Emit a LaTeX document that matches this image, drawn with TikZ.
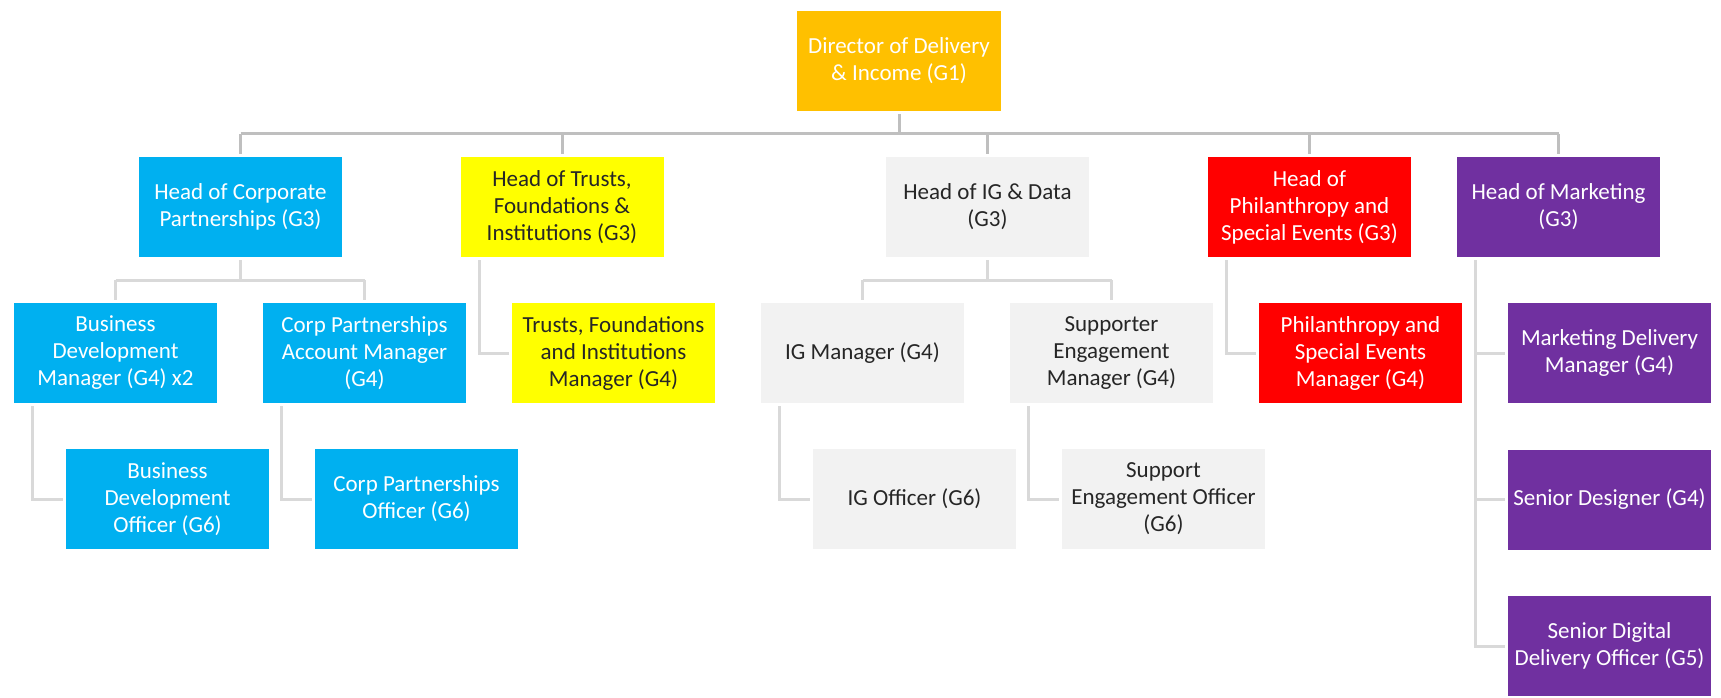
\documentclass[tikz,border=0pt]{standalone}
\usepackage{fontspec}
\setmainfont{Carlito}
\usetikzlibrary{calc}
\definecolor{cgold}{HTML}{FFC000}
\definecolor{cblue}{HTML}{00B0F0}
\definecolor{cyel}{HTML}{FFFF00}
\definecolor{cgray}{HTML}{F2F2F2}
\definecolor{cred}{HTML}{FF0000}
\definecolor{cpurp}{HTML}{7030A0}
\definecolor{lineA}{HTML}{BFBFBF}
\definecolor{lineB}{HTML}{D9D9D9}
\definecolor{txtdark}{HTML}{262626}
\begin{document}
\begin{tikzpicture}[x=1pt,y=-1pt,
 box/.style={rectangle, minimum width=203pt, minimum height=100pt, inner sep=0pt, align=center, font=\fontsize{23}{27}\selectfont},
 wbox/.style={box, text=white},
 dbox/.style={box, text=txtdark},
 topline/.style={draw=lineA, line width=3pt},
 subline/.style={draw=lineB, line width=3pt},
]
\useasboundingbox[fill=white] (0,0) rectangle (1721,698);

% level 0
\node[wbox, fill=cgold, minimum width=204pt] (dir) at (899,61) {Director of Delivery\\ \& Income (G1)};

% level 1
\node[wbox, fill=cblue] (hcp) at (240.5,207) {Head of Corporate\\ Partnerships (G3)};
\node[dbox, fill=cyel] (htf) at (562,207) {Head of Trusts,\\ Foundations \&\\ Institutions (G3)};
\node[dbox, fill=cgray] (hig) at (987.5,207) {Head of IG \& Data\\ (G3)};
\node[wbox, fill=cred] (hph) at (1309.5,207) {Head of\\ Philanthropy and\\ Special Events (G3)};
\node[wbox, fill=cpurp] (hmk) at (1558.5,207) {Head of Marketing\\ (G3)};

% level 2
\node[wbox, fill=cblue] (bdm) at (115.5,353) {Business\\ Development\\ Manager (G4) x2};
\node[wbox, fill=cblue] (cpam) at (364.5,353) {Corp Partnerships\\ Account Manager\\ (G4)};
\node[dbox, fill=cyel] (tfim) at (613.5,353) {Trusts, Foundations\\ and Institutions\\ Manager (G4)};
\node[dbox, fill=cgray] (igm) at (862.5,353) {IG Manager (G4)};
\node[dbox, fill=cgray] (sem) at (1111.5,353) {Supporter\\ Engagement\\ Manager (G4)};
\node[wbox, fill=cred] (psem) at (1360.5,353) {Philanthropy and\\ Special Events\\ Manager (G4)};
\node[wbox, fill=cpurp] (mdm) at (1609.5,353) {Marketing Delivery\\ Manager (G4)};

% level 3
\node[wbox, fill=cblue] (bdo) at (167.5,499) {Business\\ Development\\ Officer (G6)};
\node[wbox, fill=cblue] (cpo) at (416.5,499) {Corp Partnerships\\ Officer (G6)};
\node[dbox, fill=cgray] (igo) at (914.5,499) {IG Officer (G6)};
\node[dbox, fill=cgray] (seo) at (1163.5,499) {Support\\ Engagement Officer\\ (G6)};
\node[wbox, fill=cpurp] (sd) at (1609.5,499.5) {Senior Designer (G4)};
\node[wbox, fill=cpurp] (sddo) at (1609.5,646) {Senior Digital\\ Delivery Officer (G5)};

% top bus
\coordinate (bus) at (0,134);
\draw[topline] ([yshift=-3pt]dir.south) -- (dir.south |- bus);
\draw[topline] (hcp.north |- bus) -- (hmk.north |- bus);
\foreach \n in {hcp,htf,hig,hph,hmk}
  \draw[topline] (\n.north |- bus) -- ([yshift=3pt]\n.north);

% sub buses
\coordinate (sub) at (0,280);
\draw[subline] ([yshift=-3pt]hcp.south) -- (hcp.south |- sub);
\draw[subline] (bdm.north |- sub) -- (cpam.north |- sub);
\foreach \n in {bdm,cpam}
  \draw[subline] (\n.north |- sub) -- ([yshift=3pt]\n.north);
\draw[subline] ([yshift=-3pt]hig.south) -- (hig.south |- sub);
\draw[subline] (igm.north |- sub) -- (sem.north |- sub);
\foreach \n in {igm,sem}
  \draw[subline] (\n.north |- sub) -- ([yshift=3pt]\n.north);

% elbows
\draw[subline] ([xshift=19pt,yshift=-3pt]bdm.south west) |- ([xshift=-3pt]bdo.west);
\draw[subline] ([xshift=19pt,yshift=-3pt]cpam.south west) |- ([xshift=-3pt]cpo.west);
\draw[subline] ([xshift=19pt,yshift=-3pt]htf.south west) |- ([xshift=-3pt]tfim.west);
\draw[subline] ([xshift=19pt,yshift=-3pt]igm.south west) |- ([xshift=-3pt]igo.west);
\draw[subline] ([xshift=19pt,yshift=-3pt]sem.south west) |- ([xshift=-3pt]seo.west);
\draw[subline] ([xshift=19pt,yshift=-3pt]hph.south west) |- ([xshift=-3pt]psem.west);
\draw[subline] ([xshift=19pt,yshift=-3pt]hmk.south west) |- ([xshift=-3pt]mdm.west);
\draw[subline] ([xshift=19pt,yshift=-3pt]hmk.south west) |- ([xshift=-3pt]sd.west);
\draw[subline] ([xshift=19pt,yshift=-3pt]hmk.south west) |- ([xshift=-3pt]sddo.west);
\end{tikzpicture}
\end{document}
